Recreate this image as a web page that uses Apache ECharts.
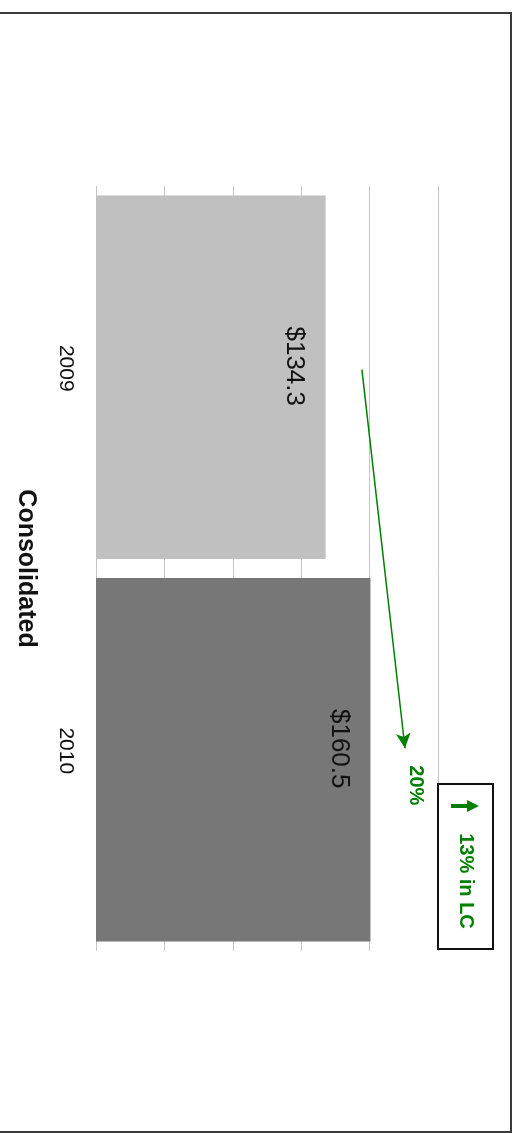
<!DOCTYPE html>
<html>
<head>
<meta charset="utf-8">
<script src="https://cdn.jsdelivr.net/npm/echarts@6/dist/echarts.min.js"></script>
<style>
  html, body { margin: 0; padding: 0; background: #ffffff; }
  #chart { width: 517px; height: 1133px; }
</style>
</head>
<body>
<div id="chart"></div>
<script>
// Revenue by year (in $ millions)
const categories = ['2009', '2010'];
const revenue = [134.3, 160.5];
const barColors = ['#c0c0c0', '#777777'];
const valueTicks = [0, 40, 80, 120, 160, 200];
const groupTitle = 'Consolidated';

// Growth arrow: [value, position along the year axis (0..2)]
const growthFrom = [155.5, 0.48];
const growthTo = [180.7, 1.47];
const growthLabel = '20%';
const localCurrencyLabel = '13% in LC';

const GREEN = '#008000';
const FONT = '"Liberation Sans", Arial, sans-serif';

const chart = echarts.init(document.getElementById('chart'), null, { renderer: 'canvas' });

chart.setOption({
  backgroundColor: '#ffffff',
  animation: false,
  grid: { left: 96, right: 79, top: 186, bottom: 182, outerBoundsMode: 'none' },
  xAxis: {
    type: 'value',
    min: valueTicks[0],
    max: valueTicks[valueTicks.length - 1],
    interval: valueTicks[1] - valueTicks[0],
    axisLine: { show: false },
    axisTick: { show: false },
    axisLabel: { show: false },
    splitLine: { show: true, lineStyle: { color: '#c4c4c4', width: 1 } }
  },
  yAxis: [
    {
      type: 'category',
      data: categories,
      inverse: true,
      axisLine: { show: false },
      axisTick: { show: false },
      axisLabel: {
        rotate: -90,
        margin: 20,
        formatter: v => '{y|' + v + '}',
        rich: {
          y: {
            fontSize: 21,
            color: '#111111',
            fontFamily: FONT,
            padding: [0, 18, 0, 0]
          }
        }
      },
      name: groupTitle,
      nameLocation: 'middle',
      nameRotate: -90,
      nameGap: 58,
      nameTextStyle: { fontSize: 25, fontWeight: 'bold', color: '#111111', fontFamily: FONT }
    },
    {
      type: 'value',
      min: 0,
      max: 2,
      inverse: true,
      show: false
    }
  ],
  series: [
    {
      type: 'bar',
      barCategoryGap: '5%',
      data: revenue.map((v, i) => ({ value: v, itemStyle: { color: barColors[i] } })),
      label: {
        show: true,
        position: 'insideRight',
        distance: 31,
        rotate: -90,
        align: 'center',
        verticalAlign: 'middle',
        offset: [-11, 0],
        fontSize: 26,
        color: '#111111',
        fontFamily: FONT,
        formatter: p => '$' + p.value.toFixed(1)
      }
    },
    {
      type: 'line',
      yAxisIndex: 1,
      data: [],
      markLine: {
        silent: true,
        symbol: ['none', 'arrow'],
        symbolSize: [11, 15],
        label: { show: false },
        lineStyle: { color: GREEN, width: 1.5, type: 'solid' },
        data: [[{ coord: growthFrom }, { coord: growthTo }]]
      }
    }
  ]
});

// Annotations: growth label next to the arrow head, and the local-currency box
const tip = chart.convertToPixel({ xAxisIndex: 0, yAxisIndex: 1 }, growthTo);
const boxX = 438, boxY = 784, boxW = 55, boxH = 165;
chart.setOption({
  graphic: [
    {
      type: 'rect',
      shape: { x: -2, y: 13, width: 513, height: 1119 },
      style: { fill: 'none', stroke: '#3a3a3a', lineWidth: 2 },
      silent: true
    },
    {
      type: 'text',
      x: tip[0] + 11,
      y: tip[1] + 37,
      rotation: -Math.PI / 2,
      style: {
        text: growthLabel,
        fill: GREEN,
        font: 'bold 20px ' + FONT,
        align: 'center',
        verticalAlign: 'middle'
      }
    },
    {
      type: 'group',
      x: boxX,
      y: boxY,
      children: [
        {
          type: 'rect',
          shape: { x: 0, y: 0, width: boxW, height: boxH },
          style: { fill: '#ffffff', stroke: '#111111', lineWidth: 2 }
        },
        {
          type: 'polyline',
          shape: { points: [[13, 22], [32, 22]] },
          style: { stroke: GREEN, lineWidth: 4 }
        },
        {
          type: 'polygon',
          shape: { points: [[29, 16], [41, 22], [29, 28]] },
          style: { fill: GREEN }
        },
        {
          type: 'text',
          x: 28,
          y: 97,
          rotation: -Math.PI / 2,
          style: {
            text: localCurrencyLabel,
            fill: GREEN,
            font: 'bold 20px ' + FONT,
            align: 'center',
            verticalAlign: 'middle'
          }
        }
      ]
    }
  ]
});
</script>
</body>
</html>
